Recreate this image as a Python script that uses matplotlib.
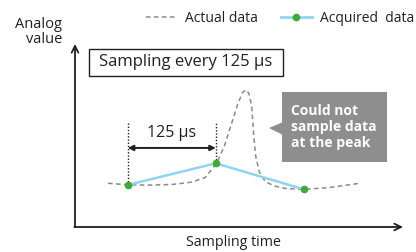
import matplotlib
matplotlib.use("Agg")
import matplotlib.pyplot as plt
from matplotlib.lines import Line2D
from matplotlib.patches import Rectangle, Polygon

plt.rcParams['font.family'] = ['Open Sans', 'DejaVu Sans']

# Actual signal (time in us, analog value in arbitrary units)
actual_t = [47, 77, 110, 140, 165, 185, 201, 212, 222, 231, 238, 243, 247,
            251, 254, 257, 262, 270, 282, 300, 325, 360, 405]
actual_v = [23.9, 23.0, 22.9, 23.3, 24.5, 27.0, 34.8, 44, 56, 67, 73.5, 75, 73,
            66, 49, 38, 30, 25, 22.5, 21, 20.6, 21.5, 23.9]

# Samples every 125 us
sample_t = [75, 200, 325]
sample_v = [23.0, 34.8, 20.6]

legend_labels = ["Actual data", "Acquired  data"]

GRAY = "#8a8a8a"
BLUE = "#8fd4f2"
GREEN = "#3daa3a"
TEXT = "#231f20"
BOX_GRAY = "#8e8e8e"

W, H = 416, 252
fig = plt.figure(figsize=(W / 100, H / 100), dpi=100)

# overlay in pixel coordinates for the decorations
over = fig.add_axes([0, 0, 1, 1])
over.set_xlim(0, W)
over.set_ylim(H, 0)
over.axis("off")

# plot area: origin at (75, 227) px, up to 403 px wide / 44 px top
x0, y0, x1, y1 = 75, 227, 403, 44
ax = fig.add_axes([x0 / W, (H - y0) / H, (x1 - x0) / W, (y0 - y1) / H])
ax.set_xlim(0, (x1 - x0) * 125 / 88)
ax.set_ylim(0, 100)
ax.axis("off")

# axes arrows
ax.annotate("", xy=(0, 1), xytext=(0, 0), xycoords="axes fraction",
            arrowprops=dict(arrowstyle="->", lw=1.3, color=TEXT, shrinkA=0, shrinkB=0,
                            mutation_scale=12))
ax.annotate("", xy=(1, 0), xytext=(-0.002, 0), xycoords="axes fraction",
            arrowprops=dict(arrowstyle="->", lw=1.3, color=TEXT, shrinkA=0, shrinkB=0,
                            mutation_scale=12))

ax.plot(actual_t, actual_v, ls=(0, (3, 2.2)), color=GRAY, lw=1.1)
ax.plot(sample_t, sample_v, color=BLUE, lw=1.8, zorder=3)
ax.plot(sample_t, sample_v, "o", color=GREEN, ms=4.5, zorder=4)

# 125 us dimension
top_v = 57.5
arrow_v = 43.2
for t, v in zip(sample_t[:2], sample_v[:2]):
    ax.plot([t, t], [v, top_v], ls=(0, (1, 1.3)), color=TEXT, lw=1.0)
ax.annotate("", xy=(sample_t[1], arrow_v), xytext=(sample_t[0], arrow_v),
            arrowprops=dict(arrowstyle="<|-|>", lw=1.4, color=TEXT, shrinkA=0, shrinkB=0,
                            mutation_scale=8))
ax.text((sample_t[0] + sample_t[1]) / 2, 51.5, "125 µs", ha="center", va="center",
        fontsize=11.5, color=TEXT)

# labels
over.text(62, 32, "Analog\nvalue", ha="right", va="center", fontsize=10.5,
          color=TEXT, linespacing=0.95)
over.text(234, 242, "Sampling time", ha="center", va="center", fontsize=10.3, color=TEXT)

# sampling box
over.add_patch(Rectangle((89, 49), 194, 27, fill=False, ec=TEXT, lw=1.0))
over.text(186, 62.5, "Sampling every 125 µs", ha="center", va="center",
          fontsize=12, color=TEXT)

# callout
over.add_patch(Rectangle((282, 92), 105, 70, fc=BOX_GRAY, ec="none"))
over.add_patch(Polygon([[269, 128], [283, 122], [283, 135]], closed=True,
                       fc=BOX_GRAY, ec="none"))
over.text(291, 127, "Could not\nsample data\nat the peak", ha="left", va="center",
          fontsize=10, fontweight="bold", color="white", linespacing=1.2)

# legend
handles = [Line2D([], [], ls=(0, (3, 2.2)), color=GRAY, lw=1.1),
           Line2D([], [], color=BLUE, lw=2, marker="o", markerfacecolor=GREEN,
                  markeredgecolor=GREEN, ms=4.5)]
fig.legend(handles, legend_labels, loc="upper right", bbox_to_anchor=(1.016, 0.99),
           ncol=2, frameon=False, fontsize=10, handlelength=2.2, handletextpad=0.6,
           columnspacing=1.7, borderaxespad=0.2, labelcolor=TEXT)

fig.savefig("out.png", dpi=100)
